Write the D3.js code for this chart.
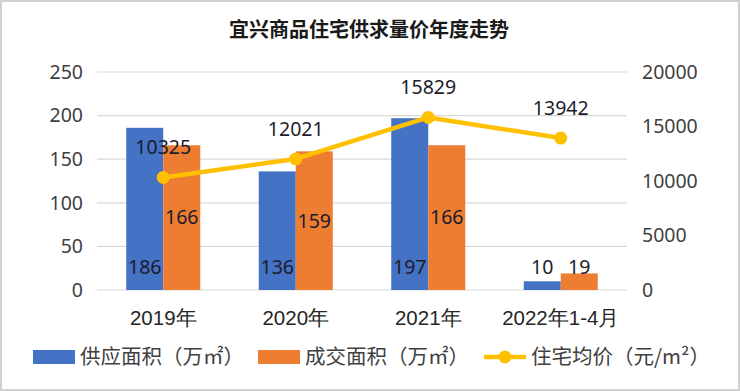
<!DOCTYPE html>
<html><head><meta charset="utf-8">
<script src="https://cdn.jsdelivr.net/npm/d3@7"></script>
<style>
html,body{margin:0;padding:0;background:#fff;}
svg{display:block;font-family:"Noto Sans CJK SC","Noto Sans",sans-serif;}
</style></head>
<body><svg id="c" width="740" height="391"></svg>
<script>
const categories = ["2019年","2020年","2021年","2022年1-4月"];
const supply = [186,136,197,10];
const sales = [166,159,166,19];
const price = [10325,12021,15829,13942];
const leftTicks = [0,50,100,150,200,250];
const rightTicks = [0,5000,10000,15000,20000];
const seriesNames = ["供应面积（万㎡）","成交面积（万㎡）","住宅均价（元/m²）"];
const colors = {supply:"#4472C4", sales:"#ED7D31", price:"#FFC000"};

const svg = d3.select("#c");
svg.append("rect").attr("x",1).attr("y",1).attr("width",738).attr("height",389)
  .attr("fill","#fff").attr("stroke","#d0d0d0").attr("stroke-width",2);

svg.append("text").attr("x",369).attr("y",37).attr("text-anchor","middle")
  .attr("font-size",20).attr("font-weight","bold").attr("fill","#1a1a1a")
  .text("宜兴商品住宅供求量价年度走势");

const L=97,R=627,T=72,B=290;
const x = d3.scaleBand().domain(categories).range([L,R]);
const x1 = d3.scaleBand().domain(["supply","sales"]).range([0,x.bandwidth()]).paddingOuter(0.79);
const y = d3.scaleLinear().domain([0,250]).range([B,T]);
const y2 = d3.scaleLinear().domain([0,20000]).range([B,T]);

// gridlines
svg.append("g").selectAll("line").data(leftTicks).join("line")
  .attr("x1",L).attr("x2",R).attr("y1",d=>y(d)).attr("y2",d=>y(d))
  .attr("stroke","#d9d9d9").attr("stroke-width",1.2);

const numFont = "'Noto Sans','Noto Sans CJK SC',sans-serif";
// left axis
const ax = svg.append("g").attr("transform",`translate(${L},0)`)
  .call(d3.axisLeft(y).tickValues(leftTicks).tickSize(0).tickPadding(14));
ax.select(".domain").remove();
ax.selectAll("text").attr("font-size",19.5).attr("fill","#404040").attr("font-family",numFont);

const ax2 = svg.append("g").attr("transform",`translate(${R},0)`)
  .call(d3.axisRight(y2).tickValues(rightTicks).tickFormat(d3.format("d")).tickSize(0).tickPadding(15));
ax2.select(".domain").remove();
ax2.selectAll("text").attr("font-size",19.5).attr("fill","#404040").attr("font-family",numFont);

const axb = svg.append("g").attr("transform",`translate(0,${B})`)
  .call(d3.axisBottom(x).tickSize(0).tickPadding(20));
axb.select(".domain").remove();
axb.selectAll("text").attr("font-size",20.5).attr("fill","#262626");

// bars
const g = svg.append("g");
categories.forEach((c,i)=>{
  g.append("rect").attr("x",x(c)+x1("supply")).attr("width",x1.bandwidth())
    .attr("y",y(supply[i])).attr("height",B-y(supply[i])).attr("fill",colors.supply);
  g.append("rect").attr("x",x(c)+x1("sales")).attr("width",x1.bandwidth())
    .attr("y",y(sales[i])).attr("height",B-y(sales[i])).attr("fill",colors.sales);
});

// line
const cx = c => x(c)+x.bandwidth()/2;
svg.append("path").datum(price)
  .attr("d",d3.line().x((d,i)=>cx(categories[i])).y(d=>y2(d)))
  .attr("fill","none").attr("stroke",colors.price).attr("stroke-width",4.5).attr("stroke-linejoin","round");
svg.append("g").selectAll("circle").data(price).join("circle")
  .attr("cx",(d,i)=>cx(categories[i])).attr("cy",d=>y2(d)).attr("r",6.5).attr("fill",colors.price);

// labels
const lab = svg.append("g").attr("font-size",19.5).attr("fill","#1c1c2c").attr("text-anchor","middle")
  .attr("font-family",numFont);
categories.forEach((c,i)=>{
  const bx = x(c)+x1("supply")+x1.bandwidth()/2;
  lab.append("text").attr("x",bx).attr("y",B-23).attr("dy","0.35em").text(supply[i]);
  const ox = x(c)+x1("sales")+x1.bandwidth()/2;
  const h = B - y(sales[i]);
  const ly = h > 40 ? (y(sales[i])+B)/2 : B-23;
  lab.append("text").attr("x",ox).attr("y",ly).attr("dy","0.35em").text(sales[i]);
  lab.append("text").attr("x",cx(c)).attr("y",y2(price[i])-30).attr("dy","0.35em").text(price[i]);
});

// legend
const lg = svg.append("g").attr("font-size",20.5).attr("fill","#404040");
const items = [
  {x:33, type:"rect", color:colors.supply, text:seriesNames[0]},
  {x:258, type:"rect", color:colors.sales, text:seriesNames[1]},
  {x:484, type:"line", color:colors.price, text:seriesNames[2]}
];
items.forEach(it=>{
  if(it.type==="rect"){
    lg.append("rect").attr("x",it.x).attr("y",350).attr("width",42).attr("height",14).attr("fill",it.color);
  } else {
    lg.append("line").attr("x1",it.x).attr("x2",it.x+42).attr("y1",357).attr("y2",357)
      .attr("stroke",it.color).attr("stroke-width",4.5);
    lg.append("circle").attr("cx",it.x+21).attr("cy",357).attr("r",6.5).attr("fill",it.color);
  }
  lg.append("text").attr("x",it.x+47).attr("y",357).attr("dy","0.35em").text(it.text);
});
</script></body></html>
